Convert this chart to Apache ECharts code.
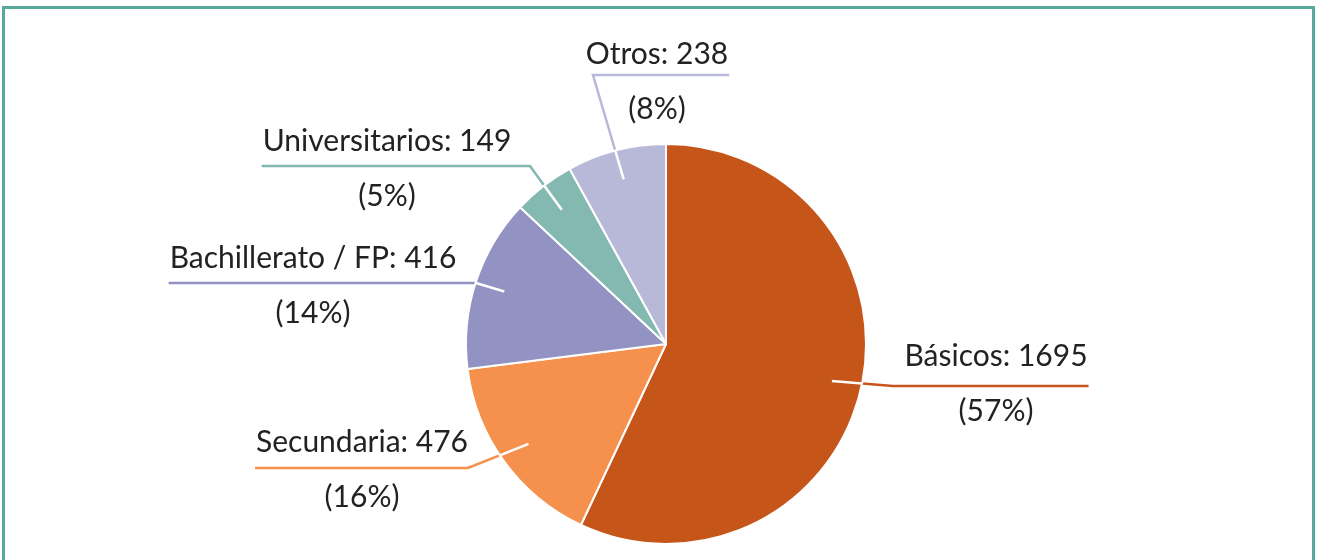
<!DOCTYPE html>
<html>
<head>
<meta charset="utf-8">
<script src="https://cdn.jsdelivr.net/npm/echarts@6/dist/echarts.min.js"></script>
<style>
  html, body { margin: 0; padding: 0; background: #fff; overflow: hidden; }
  #frame {
    position: absolute; left: 2px; top: 6px; width: 1307px; height: 600px;
    border: 3px solid #57a99c; border-bottom: none;
  }
  #echarts { position: absolute; left: 0; top: 0; width: 1318px; height: 560px; }
</style>
</head>
<body>
<div id="frame"></div>
<div id="echarts"></div>
<script>
const categories = ['Básicos', 'Secundaria', 'Bachillerato / FP', 'Universitarios', 'Otros']
const values = [1695, 476, 416, 149, 238]
const colors = ['#c55519', '#f5914c', '#9292c3', '#84b9b1', '#b8b8d9']

// 标签布局（相对圆心）：折点 dx, 折点 dy, 文字中心 dx, 文字中心相对引导线 dy
const labelAnchors = [
  [227, 42, 330, -2],
  [-198, 124, -304, 2],
  [-190, -61, -353, 3],
  [-136, -178, -279, 3],
  [-73, -269, -9, 7],
]
const CENTER = [666, 344]
const RADIUS = 200
const FONT = 'Lato'
const LINE_WIDTH = 2.5

const total = values.reduce((a, b) => a + b, 0)
const midAngles = []
let acc = 0
values.forEach(v => {
  midAngles.push((acc + v / 2) / total * Math.PI * 2)
  acc += v
})

// 引导线起点（扇区内部）
function innerPoint(i) {
  const a = midAngles[i]
  const r = RADIUS * 0.85
  return [CENTER[0] + r * Math.sin(a), CENTER[1] - r * Math.cos(a)]
}
function elbowPoint(i) {
  return [CENTER[0] + labelAnchors[i][0], CENTER[1] + labelAnchors[i][1]]
}
// 线段与圆边的交点
function edgeCross(p0, e) {
  const d = [e[0] - p0[0], e[1] - p0[1]]
  const f = [p0[0] - CENTER[0], p0[1] - CENTER[1]]
  const a = d[0] * d[0] + d[1] * d[1]
  const b = 2 * (f[0] * d[0] + f[1] * d[1])
  const c = f[0] * f[0] + f[1] * f[1] - RADIUS * RADIUS
  const disc = Math.max(0, b * b - 4 * a * c)
  const t = Math.min(1, (-b + Math.sqrt(disc)) / (2 * a))
  return [p0[0] + t * d[0], p0[1] + t * d[1]]
}

const chart = echarts.init(document.getElementById('echarts'))

const option = {
  animation: false,
  series: [
    {
      type: 'pie',
      center: CENTER,
      radius: RADIUS,
      startAngle: 90,
      avoidLabelOverlap: false,
      itemStyle: { borderColor: '#fff', borderWidth: 2 },
      label: {
        show: true,
        color: '#222',
        fontFamily: FONT,
        formatter: p => `{name|${p.name}: ${p.value}}\n{pct|(${Math.round(p.percent)}%)}`,
        rich: {
          name: { fontSize: 30, lineHeight: 55, fontFamily: FONT, color: '#222' },
          pct: { fontSize: 30, lineHeight: 55, fontFamily: FONT, color: '#222' },
        },
      },
      labelLine: { show: true, lineStyle: { width: LINE_WIDTH } },
      labelLayout: p => {
        const i = p.dataIndex
        const e = elbowPoint(i)
        const tx = CENTER[0] + labelAnchors[i][2]
        const side = tx > e[0] ? 1 : -1
        const endX = tx + side * (p.labelRect.width / 2 + 1)
        return {
          x: tx,
          y: e[1] + labelAnchors[i][3],
          align: 'center',
          verticalAlign: 'middle',
          labelLinePoints: [innerPoint(i), e, [endX, e[1]]],
        }
      },
      data: categories.map((name, i) => ({
        name,
        value: values[i],
        itemStyle: { color: colors[i] },
        labelLine: { lineStyle: { color: colors[i], width: LINE_WIDTH } },
      })),
    },
    {
      // 扇区内部的白色引导线
      type: 'pie',
      center: CENTER,
      radius: RADIUS,
      startAngle: 90,
      silent: true,
      z: 10,
      avoidLabelOverlap: false,
      itemStyle: { color: 'rgba(0,0,0,0)', borderWidth: 0 },
      label: { show: true, color: 'rgba(0,0,0,0)', formatter: '{b}' },
      labelLine: { show: true, lineStyle: { color: '#fff', width: LINE_WIDTH } },
      labelLayout: p => {
        const p0 = innerPoint(p.dataIndex)
        return { labelLinePoints: [p0, edgeCross(p0, elbowPoint(p.dataIndex))] }
      },
      data: categories.map((name, i) => ({ name, value: values[i] })),
    },
  ],
}

chart.setOption(option)
</script>
</body>
</html>
